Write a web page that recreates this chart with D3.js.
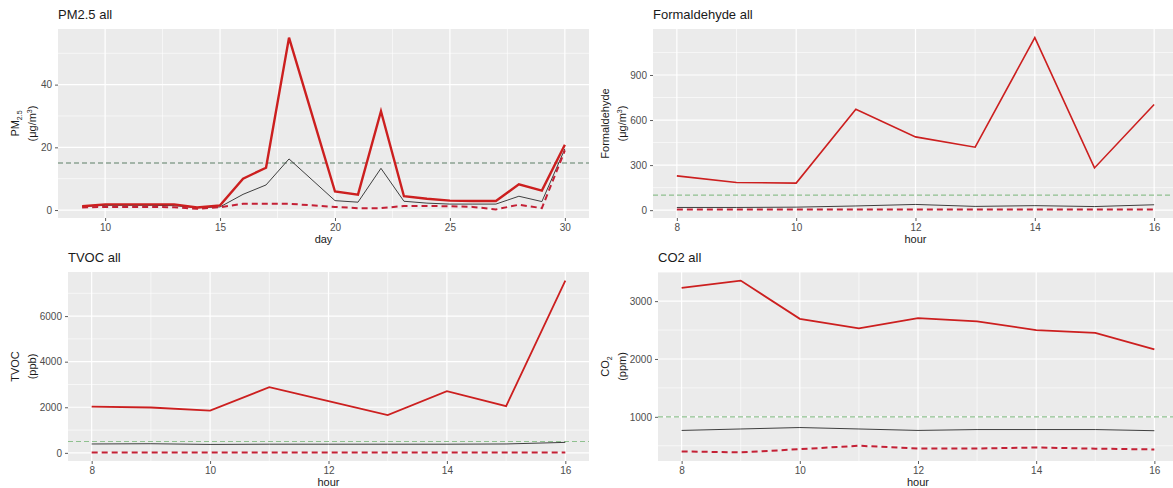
<!DOCTYPE html>
<html>
<head>
<meta charset="utf-8">
<script src="https://cdn.jsdelivr.net/npm/d3@7"></script>
<style>
  body { margin: 0; background: #fff; }
  svg { display: block; font-family: "Liberation Sans", Arial, sans-serif; }
</style>
</head>
<body>
<div id="chart"></div>
<script>
// PM2.5 by day
var pmDays = [9, 10, 11, 12, 13, 14, 15, 16, 17, 18, 20, 21, 22, 23, 24, 25, 26, 27, 28, 29, 30];
var pmMax  = [1.2, 1.8, 1.8, 1.8, 1.8, 0.8, 1.5, 10, 13.5, 55, 5.9, 4.9, 31.5, 4.4, 3.6, 3.0, 2.9, 2.9, 8.2, 6.2, 20.8];
var pmMean = [1.1, 1.5, 1.5, 1.5, 1.4, 0.7, 1.0, 5.0, 8.0, 16.3, 3.0, 2.5, 13.3, 2.8, 2.2, 1.9, 1.9, 1.9, 4.4, 2.7, 19.5];
var pmMin  = [0.8, 1.0, 1.0, 1.0, 0.9, 0.4, 0.9, 2.0, 2.0, 2.0, 1.0, 0.6, 0.6, 1.3, 1.3, 1.2, 1.0, 0.2, 1.7, 0.6, 19.0];
var pmLimit = 15;

// hourly series
var hours = [8, 9, 10, 11, 12, 13, 14, 15, 16];

var hchoMax  = [228, 184, 180, 672, 488, 419, 1149, 281, 703];
var hchoMean = [18, 18, 20, 28, 38, 25, 30, 24, 36];
var hchoMin  = [5, 5, 5, 5, 5, 5, 5, 5, 5];
var hchoLimit = 100;

var tvocMax  = [2030, 1990, 1855, 2882, 2267, 1653, 2706, 2048, 7557];
var tvocMean = [390, 400, 370, 380, 380, 380, 380, 390, 460];
var tvocMin  = [20, 20, 20, 20, 20, 20, 20, 20, 20];
var tvocLimit = 500;

var co2Max  = [3229, 3355, 2695, 2528, 2707, 2649, 2500, 2453, 2166];
var co2Mean = [765, 790, 815, 790, 765, 780, 780, 780, 760];
var co2Min  = [402, 385, 441, 500, 453, 453, 470, 450, 436];
var co2Limit = 1000;

// tick labels
var pmXTicks = [10, 15, 20, 25, 30], pmYTicks = [0, 20, 40];
var hourTicks = [8, 10, 12, 14, 16];
var hchoYTicks = [0, 300, 600, 900];
var tvocYTicks = [0, 2000, 4000, 6000];
var co2YTicks = [1000, 2000, 3000];

var svg = d3.select("#chart").append("svg")
    .attr("width", 1173)
    .attr("height", 488);

svg.append("rect").attr("width", 1173).attr("height", 488).attr("fill", "#fff");

function expand(vals) {
    var lo = d3.min(vals), hi = d3.max(vals), pad = (hi - lo) * 0.05;
    return [lo - pad, hi + pad];
}

function midpoints(ticks, dom) {
    var step = ticks[1] - ticks[0], out = [];
    for (var v = ticks[0] - step / 2; v <= dom[1]; v += step) {
        if (v >= dom[0]) out.push(v);
    }
    return out;
}

function drawPanel(p) {
    var g = svg.append("g");
    var xDom = expand(p.x);
    var yDom = expand(p.max.concat(p.mean, p.min, [p.limit]));
    var x = d3.scaleLinear().domain(xDom).range([p.left, p.right]);
    var y = d3.scaleLinear().domain(yDom).range([p.bottom, p.top]);

    g.append("rect")
        .attr("x", p.left).attr("y", p.top)
        .attr("width", p.right - p.left).attr("height", p.bottom - p.top)
        .attr("fill", "#ebebeb");

    // minor grid
    midpoints(p.xTicks, xDom).forEach(function (v) {
        g.append("line").attr("x1", x(v)).attr("x2", x(v)).attr("y1", p.top).attr("y2", p.bottom)
            .attr("stroke", "#fff").attr("stroke-width", 0.6);
    });
    midpoints(p.yTicks, yDom).forEach(function (v) {
        g.append("line").attr("y1", y(v)).attr("y2", y(v)).attr("x1", p.left).attr("x2", p.right)
            .attr("stroke", "#fff").attr("stroke-width", 0.6);
    });
    // major grid
    p.xTicks.forEach(function (v) {
        g.append("line").attr("x1", x(v)).attr("x2", x(v)).attr("y1", p.top).attr("y2", p.bottom)
            .attr("stroke", "#fff").attr("stroke-width", 1.2);
    });
    p.yTicks.forEach(function (v) {
        g.append("line").attr("y1", y(v)).attr("y2", y(v)).attr("x1", p.left).attr("x2", p.right)
            .attr("stroke", "#fff").attr("stroke-width", 1.2);
    });

    // axes
    var xAxis = g.append("g")
        .attr("transform", "translate(0," + p.bottom + ")")
        .call(d3.axisBottom(x).tickValues(p.xTicks).tickFormat(d3.format("d")).tickSize(3).tickPadding(3));
    var yAxis = g.append("g")
        .attr("transform", "translate(" + p.left + ",0)")
        .call(d3.axisLeft(y).tickValues(p.yTicks).tickFormat(d3.format("d")).tickSize(3).tickPadding(3));
    [xAxis, yAxis].forEach(function (a) {
        a.select(".domain").remove();
        a.selectAll(".tick line").attr("stroke", "#333").attr("stroke-width", 0.8);
        a.selectAll(".tick text").attr("fill", "#4d4d4d").style("font-size", "10px");
    });

    // threshold
    g.append("line")
        .attr("x1", p.left).attr("x2", p.right)
        .attr("y1", y(p.limit)).attr("y2", y(p.limit))
        .attr("stroke", p.limitColor).attr("stroke-width", 1.1)
        .attr("stroke-dasharray", "5,3");

    var line = d3.line()
        .x(function (d) { return x(d[0]); })
        .y(function (d) { return y(d[1]); });

    function pairs(vals) { return p.x.map(function (v, i) { return [v, vals[i]]; }); }

    g.append("path").datum(pairs(p.mean)).attr("d", line)
        .attr("fill", "none").attr("stroke", "#2b2b2b").attr("stroke-width", 0.9);
    g.append("path").datum(pairs(p.min)).attr("d", line)
        .attr("fill", "none").attr("stroke", "#c42035").attr("stroke-width", 2)
        .attr("stroke-dasharray", "6,4");
    g.append("path").datum(pairs(p.max)).attr("d", line)
        .attr("fill", "none").attr("stroke", "#cc1f1f").attr("stroke-width", p.maxWidth || 2);

    // title
    g.append("text").attr("x", p.left).attr("y", p.top - 10)
        .style("font-size", "13px").attr("fill", "#1a1a1a").text(p.title);

    // x title
    g.append("text").attr("x", (p.left + p.right) / 2).attr("y", p.bottom + 25)
        .attr("text-anchor", "middle").style("font-size", "11px").attr("fill", "#1a1a1a")
        .text(p.xTitle);

    // y title (two lines)
    var cy = (p.top + p.bottom) / 2;
    var t1 = g.append("text")
        .attr("transform", "translate(" + p.yTitleX + "," + cy + ") rotate(-90)")
        .attr("text-anchor", "middle").style("font-size", "11px").attr("fill", "#1a1a1a");
    p.yLine1(t1);
    var t2 = g.append("text")
        .attr("transform", "translate(" + (p.yTitleX + 17) + "," + cy + ") rotate(-90)")
        .attr("text-anchor", "middle").style("font-size", "11px").attr("fill", "#1a1a1a");
    p.yLine2(t2);
}

function ugm3(t) {
    t.append("tspan").text("(\u03bcg/m");
    t.append("tspan").attr("dy", -4).style("font-size", "7px").text("3");
    t.append("tspan").attr("dy", 4).text(")");
}

drawPanel({
    title: "PM2.5 all", xTitle: "day",
    left: 58, right: 589, top: 29, bottom: 218, yTitleX: 19,
    x: pmDays, max: pmMax, mean: pmMean, min: pmMin, limit: pmLimit,
    limitColor: "#5d7f66", xTicks: pmXTicks, yTicks: pmYTicks, maxWidth: 2.4,
    yLine1: function (t) {
        t.append("tspan").text("PM");
        t.append("tspan").attr("dy", 3).style("font-size", "7px").text("2.5");
    },
    yLine2: ugm3
});

drawPanel({
    title: "Formaldehyde all", xTitle: "hour",
    left: 653, right: 1178, top: 29, bottom: 218, yTitleX: 609,
    x: hours, max: hchoMax, mean: hchoMean, min: hchoMin, limit: hchoLimit,
    limitColor: "#8fc08f", xTicks: hourTicks, yTicks: hchoYTicks, maxWidth: 1.6,
    yLine1: function (t) { t.text("Formaldehyde"); },
    yLine2: ugm3
});

drawPanel({
    title: "TVOC all", xTitle: "hour",
    left: 68, right: 589, top: 272, bottom: 461, yTitleX: 19,
    x: hours, max: tvocMax, mean: tvocMean, min: tvocMin, limit: tvocLimit,
    limitColor: "#8fc08f", xTicks: hourTicks, yTicks: tvocYTicks, maxWidth: 1.8,
    yLine1: function (t) { t.text("TVOC"); },
    yLine2: function (t) { t.text("(ppb)"); }
});

drawPanel({
    title: "CO2 all", xTitle: "hour",
    left: 658, right: 1178, top: 272, bottom: 461, yTitleX: 609,
    x: hours, max: co2Max, mean: co2Mean, min: co2Min, limit: co2Limit,
    limitColor: "#8fc08f", xTicks: hourTicks, yTicks: co2YTicks, maxWidth: 1.8,
    yLine1: function (t) {
        t.append("tspan").text("CO");
        t.append("tspan").attr("dy", 3).style("font-size", "7px").text("2");
    },
    yLine2: function (t) { t.text("(ppm)"); }
});
</script>
</body>
</html>
